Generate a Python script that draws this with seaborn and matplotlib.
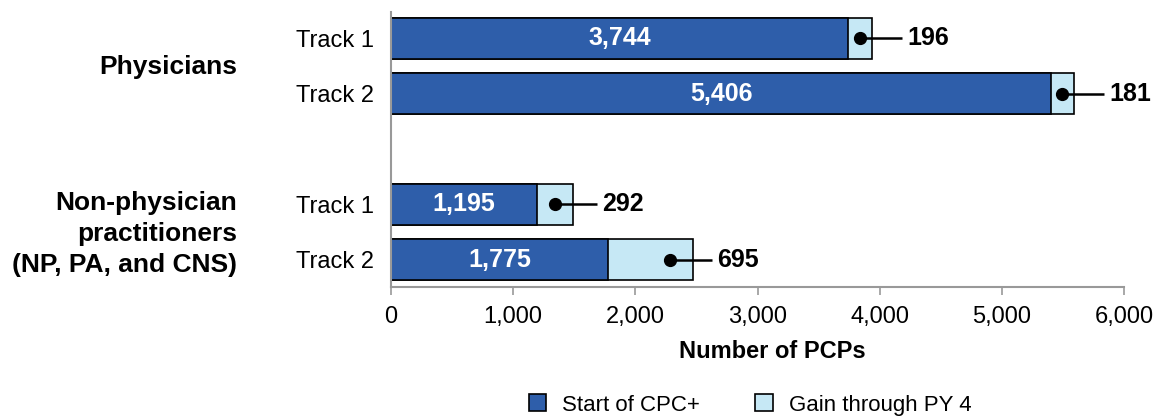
import matplotlib
matplotlib.use("Agg")
import matplotlib.pyplot as plt
from matplotlib.patches import Patch
from matplotlib.transforms import blended_transform_factory
import seaborn as sns
import pandas as pd

# ---- data ----
groups = ["Physicians", "Physicians", "Non-physician\npractitioners\n(NP, PA, and CNS)",
          "Non-physician\npractitioners\n(NP, PA, and CNS)"]
tracks = ["Track 1", "Track 2", "Track 1", "Track 2"]
start_vals = [3744, 5406, 1195, 1775]
gain_vals = [196, 181, 292, 695]
series_names = ["Start of CPC+", "Gain through PY 4"]
x_ticks = [0, 1000, 2000, 3000, 4000, 5000, 6000]
x_label = "Number of PCPs"

DARK = "#2E5EAA"
LIGHT = "#C6E8F5"
FONT = "Liberation Sans"

sns.set_theme(style="white")
plt.rcParams["font.family"] = [FONT, "DejaVu Sans"]
plt.rcParams["text.color"] = "black"
plt.rcParams["xtick.color"] = "black"
plt.rcParams["ytick.color"] = "black"
plt.rcParams["axes.labelcolor"] = "black"

keys = ["P-T1", "P-T2", "N-T1", "N-T2"]
order = ["P-T1", "P-T2", "gap", "N-T1", "N-T2"]
df = pd.DataFrame({
    "key": keys,
    "track": tracks,
    "group": groups,
    "start": start_vals,
    "gain": gain_vals,
})
df["total"] = df["start"] + df["gain"]

W, H = 1158, 419
AX_L, AX_R, AX_T, AX_B = 391, 1124, 12, 287
fig = plt.figure(figsize=(W / 100, H / 100), dpi=100)
ax = fig.add_axes([AX_L / W, 1 - AX_B / H, (AX_R - AX_L) / W, (AX_B - AX_T) / H])

sns.barplot(data=df, x="total", y="key", order=order, orient="h", color=LIGHT,
            edgecolor="black", linewidth=1.2, width=0.74, ax=ax, saturation=1)
sns.barplot(data=df, x="start", y="key", order=order, orient="h", color=DARK,
            edgecolor="black", linewidth=1.2, width=0.74, ax=ax, saturation=1)

ax.set_xlim(0, 6000)
ax.set_ylim(4.49, -0.47)
ax.set_xticks(x_ticks)
ax.set_xticklabels([f"{v:,}" for v in x_ticks], fontsize=17)
ax.set_xlabel(x_label, fontsize=17, fontweight="bold", labelpad=8, x=0.52)
ax.set_ylabel("")
ypos = [order.index(k) for k in keys]
ax.set_yticks(ypos)
ax.set_yticklabels(tracks, fontsize=17)
ax.tick_params(axis="y", length=0, pad=12)
ax.tick_params(axis="x", length=6, width=1.2, color="#999999", direction="out",
               bottom=True, pad=8)

for s in ["top", "right"]:
    ax.spines[s].set_visible(False)
for s in ["left", "bottom"]:
    ax.spines[s].set_color("#999999")
    ax.spines[s].set_linewidth(1.5)

# pixel -> data conversion along x
px = 6000 / (AX_R - AX_L)

for y, s, g, t in zip(ypos, df["start"], df["gain"], df["total"]):
    ax.text(s / 2, y, f"{s:,}", ha="center", va="center", color="white",
            fontsize=18, fontweight="bold")
    dot_x = max(s + g / 2, t - 23 * px)
    ax.plot([dot_x, dot_x + 42 * px], [y, y], color="black", lw=1.8, zorder=5,
            solid_capstyle="butt")
    ax.plot([dot_x], [y], marker="o", color="black", markersize=8.5, zorder=6)
    ax.text(dot_x + 47 * px, y, f"{g:,}", ha="left", va="center", color="black",
            fontsize=18, fontweight="bold")

# group labels
tr = blended_transform_factory(fig.transFigure, ax.transData)
grp_pos = {}
for gname, y in zip(groups, ypos):
    grp_pos.setdefault(gname, []).append(y)
for gname, ys in grp_pos.items():
    yc = sum(ys) / len(ys)
    ax.text(237 / W, yc + 0.03, gname, transform=tr, ha="right", va="center",
            fontsize=19, fontweight="bold", linespacing=1.38)

handles = [Patch(facecolor=DARK, edgecolor="black", linewidth=1.2),
           Patch(facecolor=LIGHT, edgecolor="black", linewidth=1.2)]
fig.legend(handles, series_names, loc="center", bbox_to_anchor=(750 / W, 1 - 405 / H),
           ncol=2, frameon=False, fontsize=16, handlelength=0.8, handleheight=0.8,
           handletextpad=0.7, columnspacing=2.5, borderpad=0)

fig.savefig("out.png", dpi=100)
